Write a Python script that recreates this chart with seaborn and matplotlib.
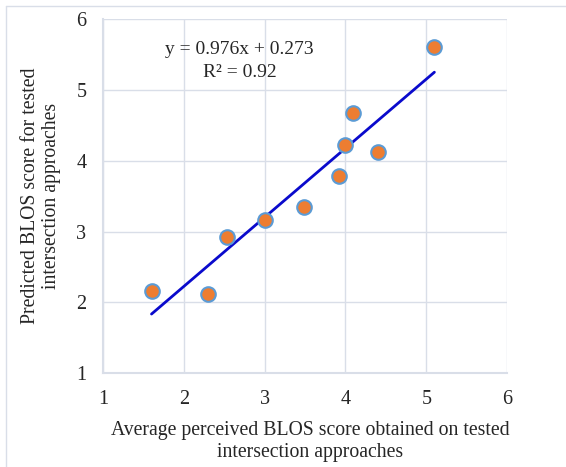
import matplotlib.pyplot as plt
import seaborn as sns
import numpy as np
from matplotlib.lines import Line2D

# observed (average perceived) vs predicted BLOS scores
perceived = [1.6, 2.3, 2.54, 3.0, 3.49, 3.92, 4.0, 4.09, 4.4, 5.1]
predicted = [2.16, 2.12, 2.92, 3.17, 3.34, 3.78, 4.22, 4.68, 4.13, 5.60]
slope = 0.976
intercept = 0.273
r2 = 0.92

sns.set_style("white")
plt.rcParams['font.family'] = ['Liberation Serif', 'DejaVu Serif']

fig = plt.figure(figsize=(5.66, 4.67), dpi=100)
ax = fig.add_axes([0.182, 0.201, 0.714, 0.758])

grid_col = "#d9dee8"
ax.set_axisbelow(True)
ax.grid(True, color=grid_col, linewidth=1)

xs = np.array([min(perceived), max(perceived)])
sns.lineplot(x=xs, y=slope * xs + intercept, ax=ax, color="#0a0acc", linewidth=2)
sns.scatterplot(x=perceived, y=predicted, ax=ax, s=110, color="#ed7d31",
                edgecolor="#5b9bd5", linewidth=1.5, zorder=3)

ax.set_xlim(1, 6)
ax.set_ylim(1, 6)
ax.set_xticks(range(1, 7))
ax.set_yticks(range(1, 7))
ax.tick_params(labelsize=14.5, length=0, pad=12)
for s in ["top", "right"]:
    ax.spines[s].set_visible(False)
for s in ["left", "bottom"]:
    ax.spines[s].set_color(grid_col)
    ax.spines[s].set_linewidth(1.5)

ax.set_xlabel("Average perceived BLOS score obtained on tested\nintersection approaches",
              fontsize=14.2, labelpad=9, x=0.512, linespacing=1.2)
ax.set_ylabel("Predicted BLOS score for tested\nintersection approaches", fontsize=14.2,
              labelpad=11, linespacing=1.15)

ax.text(2.69, 5.41, f"y = {slope}x + {intercept}\nR\u00b2 = {r2}", fontsize=14,
        ha="center", va="center", linespacing=1.4)

# chart frame
fig.add_artist(Line2D([6 / 566, 6 / 566], [0, 1 - 6 / 467], transform=fig.transFigure,
                      color=grid_col, linewidth=1))
fig.add_artist(Line2D([6 / 566, 1], [1 - 6 / 467, 1 - 6 / 467], transform=fig.transFigure,
                      color=grid_col, linewidth=1))

fig.savefig("out.png", dpi=100)
